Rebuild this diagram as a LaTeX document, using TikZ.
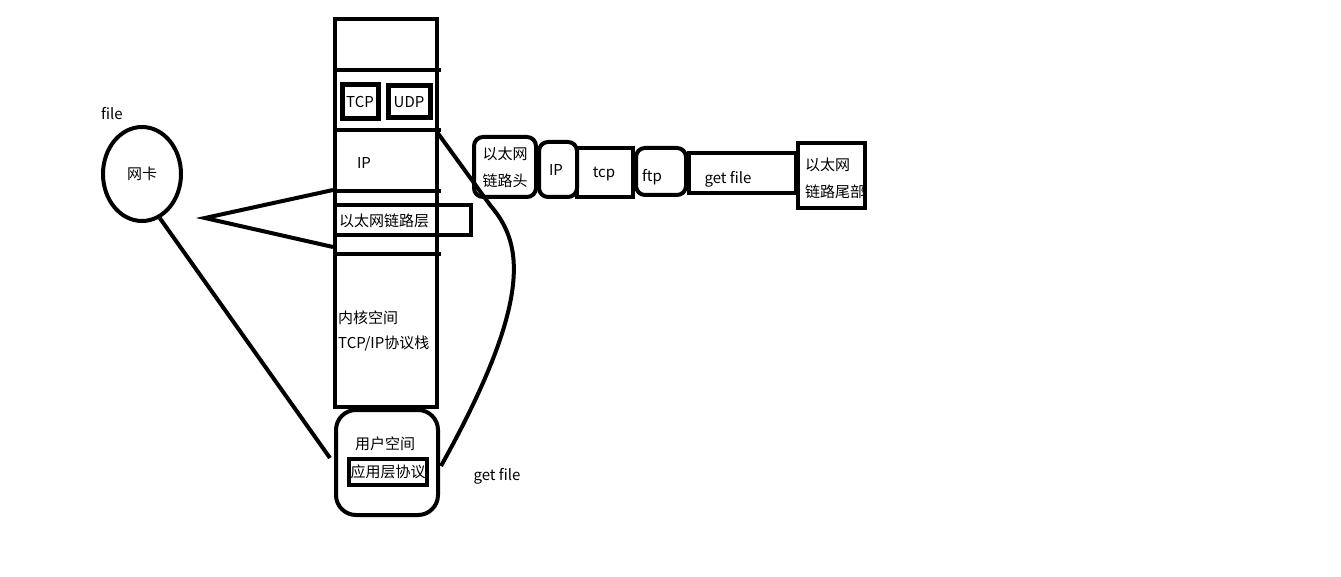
\documentclass[tikz,border=0pt]{standalone}
\usepackage{fontspec}
\setmainfont{Noto Sans CJK SC}
\usetikzlibrary{shapes.geometric}
\begin{document}
\begin{tikzpicture}[x=1pt,y=-1pt,
  thk/.style={line width=4pt},
  box/.style={draw,line width=4pt,inner sep=0pt},
  rbox/.style={box,rounded corners=9pt},
  txt/.style={font=\fontsize{15}{17}\selectfont,inner sep=0pt},
  txt2/.style={font=\fontsize{15}{27}\selectfont,inner sep=0pt,align=left}]
\useasboundingbox (0,0) rectangle (1341,577);
% main column
\node[box,minimum width=102pt,minimum height=388pt] (col) at (386,213) {};
\draw[thk] (335,70) -- (441,70);
\draw[thk] (335,130) -- (441,130);
\draw[thk] (335,191) -- (441,191);
\draw[thk] (335,254) -- (441,254);
\node[box,line width=5pt,minimum width=36pt,minimum height=34pt,txt] (tcpb) at (360,102) {TCP};
\node[box,line width=5pt,minimum width=42pt,minimum height=32pt,txt] (udpb) at (409,102) {UDP};
\node[txt] (iplbl) at (364,163) {IP};
\node[box,minimum width=136pt,minimum height=30pt] (ethl) at (403,220) {};
\node[txt,anchor=west] (ethllbl) at (339,221) {以太网链路层};
\node[txt,anchor=west] (kern1) at (338,318) {内核空间};
\node[txt,anchor=west] (kern2) at (338,344) {TCP/IP协议栈};
% user space
\node[box,rounded corners=20pt,minimum width=102pt,minimum height=105pt] (user) at (387,462.5) {};
\node[txt] (userlbl) at (385,444) {用户空间};
\node[box,minimum width=78pt,minimum height=26pt,txt] (app) at (388,472) {应用层协议};
\node[txt] (gf1) at (497,476) {get file};
% NIC
\node[draw,ellipse,line width=4pt,minimum width=78pt,minimum height=94pt,inner sep=0pt,txt] (nic) at (142,174) {网卡};
\node[txt] (filelbl) at (112,114) {file};
% triangle lines
\coordinate (tip) at (205,218);
\coordinate (t1) at (333,190);
\coordinate (t2) at (333,247);
\draw[thk,line join=miter] (t1) -- (tip) -- (t2);
\coordinate (uend) at (330,458);
\draw[thk] (nic.-68) -- (uend);
% curve
\coordinate (cs) at (437,132);
\coordinate (cm) at (490,205);
\coordinate (ce) at (441,466);
\draw[thk] (cs) -- (cm) .. controls (520,240) and (538,292) .. (ce);
% header boxes
\node[rbox,minimum width=62pt,minimum height=60pt] (eh) at (505,167) {};
\node[txt2] (ehlbl) at (505,167) {以太网\\链路头};
\node[rbox,minimum width=38pt,minimum height=55pt] (ipb) at (558,169.5) {};
\node[txt] (iphlbl) at (556,170) {IP};
\node[box,minimum width=56pt,minimum height=49pt] (tcph) at (605,172.5) {};
\node[txt] (tcphlbl) at (604,174) {tcp};
\node[rbox,minimum width=50pt,minimum height=47pt] (ftph) at (661,171.5) {};
\node[txt] (ftplbl) at (652,177) {ftp};
\node[box,minimum width=107pt,minimum height=40pt] (gfh) at (742.5,173) {};
\node[txt] (gflbl) at (728,179) {get file};
\node[txt2,anchor=west] (etlbl) at (805,178) {以太网\\链路尾部};
\node[box,minimum width=67pt,minimum height=65pt] (et) at (831.5,175.5) {};
\end{tikzpicture}
\end{document}
